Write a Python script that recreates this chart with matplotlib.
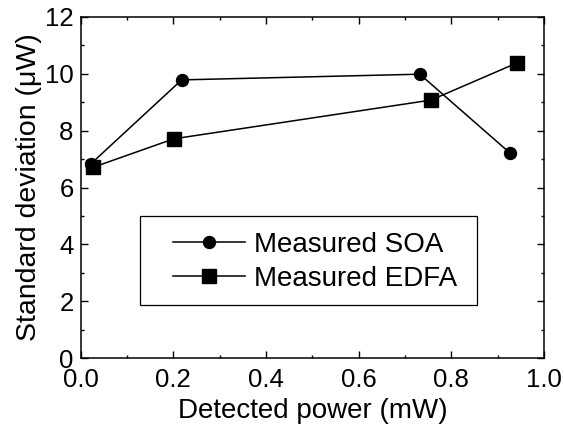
import matplotlib
matplotlib.use("Agg")
import matplotlib.pyplot as plt
from matplotlib.patches import Rectangle
from matplotlib.ticker import MultipleLocator

plt.rcParams['font.family'] = ['Liberation Sans', 'DejaVu Sans']

soa_x = [0.022, 0.218, 0.732, 0.926]
soa_y = [6.83, 9.78, 9.98, 7.22]
edfa_x = [0.027, 0.201, 0.756, 0.941]
edfa_y = [6.71, 7.71, 9.07, 10.37]

x_ticks = [0.0, 0.2, 0.4, 0.6, 0.8, 1.0]
y_ticks = [0, 2, 4, 6, 8, 10, 12]

fig = plt.figure(figsize=(5.64, 4.30), dpi=100)
ax = fig.add_axes([0.143, 0.1667, 0.8215, 0.7945])

ax.plot(soa_x, soa_y, '-', color='black', lw=1.1, marker='o', ms=8.6,
        label='Measured SOA')
ax.plot(edfa_x, edfa_y, '-', color='black', lw=1.1, marker='s', ms=9.6,
        label='Measured EDFA')

ax.set_xlim(0, 1.0)
ax.set_ylim(0, 12)
ax.set_xticks(x_ticks)
ax.set_xticklabels([f"{v:.1f}" for v in x_ticks])
ax.set_yticks(y_ticks)
ax.set_yticklabels([str(v) for v in y_ticks])
ax.xaxis.set_minor_locator(MultipleLocator(0.1))
ax.yaxis.set_minor_locator(MultipleLocator(1))
ax.tick_params(which='both', direction='in', top=True, right=True,
               width=1.0, labelsize=18.5)
ax.tick_params(axis='x', which='both', pad=7)
ax.tick_params(axis='y', which='both', pad=5)
ax.tick_params(which='major', length=4.8)
ax.tick_params(which='minor', length=2.4)
for s in ax.spines.values():
    s.set_linewidth(1.1)

ax.set_xlabel('Detected power (mW)', fontsize=20, labelpad=4)
ax.set_ylabel('Standard deviation (μW)', fontsize=20.5, labelpad=2)

ax.add_patch(Rectangle((0.128, 0.156), 0.727, 0.261, transform=ax.transAxes,
                       fill=False, edgecolor='black', lw=0.9, zorder=3))
leg = ax.legend(loc='center', bbox_to_anchor=(0.506, 0.283), frameon=False,
                fontsize=20, handlelength=2.6, handletextpad=0.3,
                labelspacing=0.28, borderpad=0, borderaxespad=0)

fig.savefig('out.png', dpi=100)
